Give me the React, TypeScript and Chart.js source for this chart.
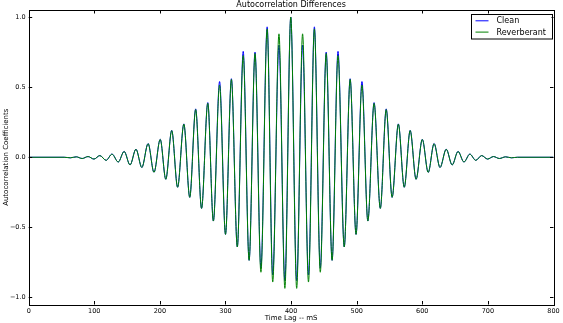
import React, { useEffect, useRef } from "react";
import { Chart, registerables } from "chart.js";

Chart.register(...registerables);

// Lag positions (ms) of the extrema, plus flat end points
const lagMs = [
  0, 54,
  63.5, 72.5, 81.5, 90.5, 99.5, 108.5, 118, 127, 136.5, 145.5,
  154.5, 163.5, 172.5, 182, 191, 200.5, 209, 218, 227, 236.5,
  245.5, 254.5, 263.5, 273, 281.5, 291, 300, 309, 318, 327,
  336, 345, 354, 363.5, 372, 381.5, 390.5,
  399.5,
  408.5, 417.5, 426.5, 435.5, 444.5, 453.5, 462.5, 471.5, 481, 490,
  499, 508, 517, 526.5, 536, 545, 554, 563.5, 572.5, 581.5,
  590.5, 600, 609, 618, 627, 636.5, 645.5, 654.5, 663.5, 672.5,
  681.5, 690.5, 699.5, 708.5, 717.5, 727, 736,
  745, 800,
];

const cleanValues = [
  0, 0,
  -0.004, 0.003, -0.009, 0.005, -0.013, 0.012, -0.022, 0.023, -0.034, 0.042,
  -0.055, 0.058, -0.073, 0.098, -0.108, 0.128, -0.157, 0.192, -0.214, 0.238,
  -0.286, 0.345, -0.365, 0.39, -0.455, 0.54, -0.55, 0.56, -0.64, 0.755,
  -0.735, 0.75, -0.79, 0.93, -0.84, 0.8, -0.88,
  1.0,
  -0.88, 0.8, -0.84, 0.93, -0.79, 0.75, -0.735, 0.755, -0.64, 0.56,
  -0.55, 0.54, -0.455, 0.39, -0.365, 0.345, -0.286, 0.238, -0.214, 0.192,
  -0.157, 0.128, -0.108, 0.098, -0.073, 0.058, -0.055, 0.042, -0.034, 0.023,
  -0.022, 0.012, -0.013, 0.005, -0.009, 0.003, -0.004,
  0, 0,
];

const reverberantValues = [
  0, 0,
  -0.004, 0.003, -0.009, 0.005, -0.013, 0.012, -0.022, 0.022, -0.034, 0.041,
  -0.055, 0.057, -0.073, 0.097, -0.108, 0.127, -0.157, 0.19, -0.214, 0.236,
  -0.286, 0.34, -0.365, 0.385, -0.455, 0.515, -0.55, 0.555, -0.64, 0.725,
  -0.735, 0.74, -0.82, 0.915, -0.89, 0.88, -0.935,
  1.0,
  -0.935, 0.88, -0.89, 0.915, -0.82, 0.74, -0.735, 0.725, -0.64, 0.555,
  -0.55, 0.515, -0.455, 0.385, -0.365, 0.34, -0.286, 0.236, -0.214, 0.19,
  -0.157, 0.127, -0.108, 0.097, -0.073, 0.057, -0.055, 0.041, -0.034, 0.022,
  -0.022, 0.012, -0.013, 0.005, -0.009, 0.003, -0.004,
  0, 0,
];

const xTicks = [0, 100, 200, 300, 400, 500, 600, 700, 800];
const yTicks = [-1, -0.5, 0, 0.5, 1];
const yTickLabels = ["\u22121.0", "\u22120.5", "0.0", "0.5", "1.0"];
const seriesLabels = ["Clean", "Reverberant"];
const seriesColors = ["#0000ff", "#008000"];
const titleText = "Autocorrelation Differences";
const xLabelText = "Time Lag -- mS";
const yLabelText = "Autocorrelation Coefficients";

const FONT = "'DejaVu Sans', sans-serif";

const mplPlugin = {
  id: "mplDecor",
  afterDraw(chart: any) {
    const { ctx, chartArea } = chart;
    const { left, right, top, bottom } = chartArea;
    const xs = chart.scales.x;
    const ys = chart.scales.y;
    ctx.save();
    // frame
    ctx.strokeStyle = "#000";
    ctx.lineWidth = 1;
    ctx.strokeRect(Math.round(left) + 0.5, Math.round(top) + 0.5, Math.round(right) - Math.round(left), Math.round(bottom) - Math.round(top));
    // inward ticks
    const tl = 3.5;
    ctx.beginPath();
    xTicks.forEach((v) => {
      const px = Math.round(xs.getPixelForValue(v)) + 0.5;
      ctx.moveTo(px, bottom);
      ctx.lineTo(px, bottom - tl);
      ctx.moveTo(px, top);
      ctx.lineTo(px, top + tl);
    });
    yTicks.forEach((v) => {
      const py = Math.round(ys.getPixelForValue(v)) + 0.5;
      ctx.moveTo(left, py);
      ctx.lineTo(left + tl, py);
      ctx.moveTo(right, py);
      ctx.lineTo(right - tl, py);
    });
    ctx.stroke();

    // title and axis labels
    ctx.fillStyle = "#000";
    ctx.textAlign = "center";
    ctx.textBaseline = "middle";
    ctx.font = `8px ${FONT}`;
    ctx.fillText(titleText, (left + right) / 2, 5);
    ctx.font = `7px ${FONT}`;
    ctx.fillText(xLabelText, (left + right) / 2, 318.5);
    ctx.save();
    ctx.translate(6, (top + bottom) / 2);
    ctx.rotate(-Math.PI / 2);
    ctx.fillText(yLabelText, 0, 0);
    ctx.restore();

    // legend
    const bw = 81;
    const bh = 24.5;
    const bx = right - 2 - bw;
    const by = top + 4;
    ctx.fillStyle = "#fff";
    ctx.fillRect(bx, by, bw, bh);
    ctx.strokeStyle = "#000";
    ctx.lineWidth = 1;
    ctx.strokeRect(Math.round(bx) + 0.5, Math.round(by) + 0.5, bw, bh);
    ctx.font = `8px ${FONT}`;
    ctx.textAlign = "left";
    ctx.textBaseline = "middle";
    chart.data.datasets.forEach((ds: any, i: number) => {
      const ly = by + 6.8 + i * 11.3;
      ctx.strokeStyle = ds.borderColor;
      ctx.lineWidth = 1;
      ctx.beginPath();
      ctx.moveTo(bx + 5, ly);
      ctx.lineTo(bx + 18, ly);
      ctx.stroke();
      ctx.fillStyle = "#000";
      ctx.fillText(ds.label, bx + 26, ly + 0.5);
    });
    ctx.restore();
  },
};

export default function App() {
  const canvasRef = useRef<HTMLCanvasElement | null>(null);

  useEffect(() => {
    const canvas = canvasRef.current;
    if (!canvas) return;
    const makeData = (vals: number[]) => lagMs.map((t, i) => ({ x: t, y: vals[i] }));
    const chart = new Chart(canvas, {
      type: "line",
      data: {
        datasets: [
          {
            label: seriesLabels[0],
            data: makeData(cleanValues),
            borderColor: seriesColors[0],
            borderWidth: 1,
            pointRadius: 0,
            fill: false,
            cubicInterpolationMode: "monotone",
            order: 1,
          },
          {
            label: seriesLabels[1],
            data: makeData(reverberantValues),
            borderColor: seriesColors[1],
            borderWidth: 1,
            pointRadius: 0,
            fill: false,
            cubicInterpolationMode: "monotone",
            order: 0,
          },
        ],
      },
      options: {
        responsive: false,
        animation: false,
        devicePixelRatio: 1,
        layout: { padding: { top: 10, right: 9.5, left: 0, bottom: 0 } },
        plugins: {
          legend: { display: false },
          title: { display: false },
          tooltip: { enabled: false },
        },
        scales: {
          x: {
            type: "linear",
            min: 0,
            max: 800,
            afterBuildTicks: (scale: any) => {
              scale.ticks = xTicks.map((v) => ({ value: v }));
            },
            afterFit: (scale: any) => {
              scale.height = 18.5;
            },
            ticks: {
              autoSkip: false,
              maxRotation: 0,
              padding: 3,
              color: "#000",
              font: { family: FONT, size: 6.5 },
              callback: (v: any) => String(v),
            },
            grid: { display: false, drawTicks: false },
            border: { display: false },
          },
          y: {
            type: "linear",
            min: -1.05,
            max: 1.05,
            afterBuildTicks: (scale: any) => {
              scale.ticks = yTicks.map((v) => ({ value: v }));
            },
            afterFit: (scale: any) => {
              scale.width = 28.7;
            },
            ticks: {
              padding: 3,
              color: "#000",
              font: { family: FONT, size: 6.5 },
              callback: (v: any) => {
                const idx = yTicks.indexOf(Number(v));
                return idx >= 0 ? yTickLabels[idx] : "";
              },
            },
            grid: { display: false, drawTicks: false },
            border: { display: false },
          },
        },
      },
      plugins: [mplPlugin],
    } as any);
    return () => chart.destroy();
  }, []);

  return (
    <div style={{ position: "fixed", left: 0, top: 0, width: 563, height: 323, background: "#fff" }}>
      <canvas ref={canvasRef} width={563} height={323} style={{ display: "block" }} />
    </div>
  );
}
